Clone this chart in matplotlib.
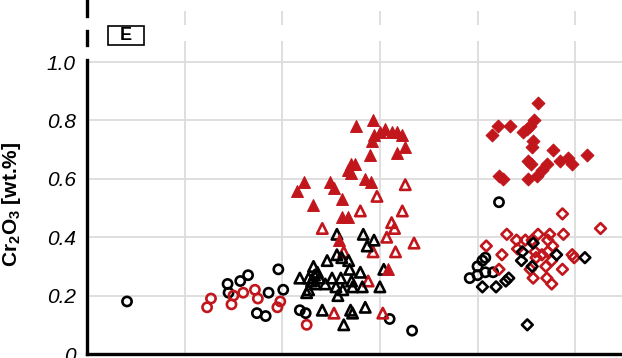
"""Cr2O3 content by sample group, panel E."""
import matplotlib
matplotlib.use('Agg')
import matplotlib.pyplot as plt
from matplotlib.patches import Rectangle
from matplotlib.lines import Line2D
from matplotlib.ticker import FixedLocator, FuncFormatter

RED = '#c2161d'
BLACK = '#000000'
GRID = '#dcdcdc'

# black open circles
circ_blk_x = [0.41, 1.44, 1.45, 1.57, 1.65, 1.74, 1.83, 1.86, 1.96, 2.01, 2.18, 2.24,
              3.10, 3.33, 4.22, 3.92, 4.00, 4.05, 4.08, 4.08, 4.00, 4.16]
circ_blk_y = [0.18, 0.24, 0.21, 0.25, 0.27, 0.14, 0.13, 0.21, 0.29, 0.22, 0.15, 0.14,
              0.12, 0.08, 0.52, 0.26, 0.30, 0.32, 0.33, 0.28, 0.27, 0.28]

# red open circles
circ_red_x = [1.23, 1.27, 1.48, 1.50, 1.60, 1.72, 1.75, 1.95, 1.98, 2.25]
circ_red_y = [0.16, 0.19, 0.17, 0.20, 0.21, 0.22, 0.19, 0.16, 0.18, 0.10]

# black open triangles
tri_blk_x = [2.56, 2.83, 2.94, 2.87, 2.46, 2.56, 2.61, 2.68, 2.69, 2.80, 2.32, 2.18,
             2.27, 2.36, 2.38, 2.51, 2.60, 2.71, 2.72, 2.82, 2.44, 2.34, 2.27, 2.25,
             2.55, 2.62, 2.57, 3.00, 3.04, 2.41, 2.70, 2.72, 2.85, 2.63, 2.30, 2.33]
tri_blk_y = [0.41, 0.41, 0.39, 0.37, 0.32, 0.34, 0.33, 0.32, 0.29, 0.28, 0.30, 0.26,
             0.26, 0.28, 0.26, 0.26, 0.26, 0.25, 0.23, 0.23, 0.24, 0.24, 0.22, 0.21,
             0.23, 0.22, 0.20, 0.23, 0.29, 0.15, 0.15, 0.14, 0.16, 0.10, 0.25, 0.27]

# red open triangles
tri_red_x = [2.97, 3.26, 2.80, 3.23, 2.41, 3.12, 3.15, 3.07, 3.35, 2.63, 2.93, 3.16,
             2.88, 2.53, 3.03]
tri_red_y = [0.54, 0.58, 0.49, 0.49, 0.43, 0.45, 0.43, 0.40, 0.38, 0.35, 0.35, 0.35,
             0.25, 0.14, 0.14]

# red filled triangles
tri_fill_x = [2.76, 2.93, 3.00, 3.05, 3.12, 3.18, 3.23, 2.92, 2.94, 3.26, 3.18, 2.90,
              2.70, 2.75, 2.67, 2.70, 2.22, 2.15, 2.49, 2.53, 2.85, 2.91, 2.32, 2.61,
              2.61, 2.67, 2.58, 3.08]
tri_fill_y = [0.78, 0.80, 0.76, 0.77, 0.76, 0.76, 0.75, 0.73, 0.75, 0.71, 0.69, 0.68,
              0.65, 0.65, 0.63, 0.62, 0.59, 0.56, 0.59, 0.57, 0.60, 0.59, 0.51, 0.53,
              0.47, 0.47, 0.39, 0.29]

# black open diamonds
dia_blk_x = [4.05, 4.19, 4.29, 4.32, 4.45, 4.46, 4.56, 4.81, 5.10, 4.51, 4.57]
dia_blk_y = [0.23, 0.23, 0.25, 0.26, 0.32, 0.35, 0.30, 0.34, 0.33, 0.10, 0.38]

# red open diamonds
dia_red_x = [4.87, 5.26, 4.30, 4.40, 4.09, 4.25, 4.62, 4.74, 4.88, 4.72, 4.49, 4.56,
             4.41, 4.59, 4.66, 4.72, 4.77, 4.97, 4.99, 4.76, 4.87, 4.70, 4.60, 4.22,
             4.54, 4.57, 4.71, 4.76]
dia_red_y = [0.48, 0.43, 0.41, 0.39, 0.37, 0.34, 0.41, 0.41, 0.41, 0.39, 0.39, 0.39,
             0.36, 0.35, 0.34, 0.35, 0.37, 0.34, 0.33, 0.32, 0.29, 0.30, 0.33, 0.29,
             0.29, 0.26, 0.26, 0.24]

# red filled diamonds
dia_fill_x = [4.62, 4.21, 4.33, 4.15, 4.47, 4.54, 4.58, 4.51, 4.57, 4.56, 4.77, 5.12,
              4.93, 4.97, 4.84, 4.52, 4.55, 4.71, 4.66, 4.61, 4.52, 4.22, 4.26]
dia_fill_y = [0.86, 0.78, 0.78, 0.75, 0.76, 0.78, 0.80, 0.77, 0.73, 0.71, 0.70, 0.68,
              0.67, 0.65, 0.66, 0.66, 0.65, 0.65, 0.63, 0.61, 0.60, 0.61, 0.60]

y_ticks = [0.0, 0.2, 0.4, 0.6, 0.8, 1.0]
x_grid = [1, 2, 3, 4, 5]
panel_label = 'E'

plt.rcParams['font.family'] = ['Liberation Sans', 'DejaVu Sans']
plt.rcParams['mathtext.fontset'] = 'custom'
plt.rcParams['mathtext.rm'] = 'Liberation Sans:bold'
plt.rcParams['mathtext.default'] = 'rm'

fig = plt.figure(figsize=(6.22, 3.58), dpi=100)
ax = fig.add_axes([87 / 622, 4 / 358, 535 / 622, 343 / 358])
ax.set_xlim(0, 5.48)
ax.set_ylim(0, 1.175)

# grid: horizontal only up to 1.0, vertical over full height
for yv in y_ticks[1:]:
    ax.axhline(yv, color=GRID, lw=1.3, zorder=0)
for xv in x_grid:
    ax.axvline(xv, color=GRID, lw=1.3, zorder=0)
ax.axhspan(1.072, 1.127, color='white', lw=0, zorder=0.5)

open_kw = dict(facecolors='none', clip_on=False, zorder=3)
ax.scatter(circ_blk_x, circ_blk_y, s=44, marker='o', edgecolors=BLACK, linewidths=1.9, **open_kw)
ax.scatter(circ_red_x, circ_red_y, s=44, marker='o', edgecolors=RED, linewidths=1.9, **open_kw)
ax.scatter(tri_red_x, tri_red_y, s=56, marker='^', edgecolors=RED, linewidths=1.9, **open_kw)
ax.scatter(tri_blk_x, tri_blk_y, s=56, marker='^', edgecolors=BLACK, linewidths=1.9, **open_kw)
ax.scatter(tri_fill_x, tri_fill_y, s=72, marker='^', c=RED, edgecolors=RED, linewidths=0.8, zorder=4)
ax.scatter(dia_red_x, dia_red_y, s=30, marker='D', edgecolors=RED, linewidths=1.9, **open_kw)
ax.scatter(dia_blk_x, dia_blk_y, s=30, marker='D', edgecolors=BLACK, linewidths=1.9, **open_kw)
ax.scatter(dia_fill_x, dia_fill_y, s=42, marker='D', c=RED, edgecolors=RED, linewidths=0.8, zorder=4)

for side in ['top', 'right', 'left']:
    ax.spines[side].set_visible(False)
ax.spines['bottom'].set_linewidth(2.4)
ax.spines['bottom'].set_color(BLACK)

# left axis line: solid up to 1.0, broken above it
ax.add_line(Line2D([0, 0], [0, 1.007], color=BLACK, lw=2.4, clip_on=False, zorder=5))
ax.add_line(Line2D([0, 0], [1.058, 1.106], color=BLACK, lw=2.4, clip_on=False, zorder=5))
ax.add_line(Line2D([0, 0], [1.158, 1.22], color=BLACK, lw=2.4, clip_on=False, zorder=5))

ax.yaxis.set_major_locator(FixedLocator(y_ticks))
ax.yaxis.set_major_formatter(FuncFormatter(lambda v, _: '0' if v == 0 else f'{v:.1f}'))
ax.tick_params(axis='y', length=0, pad=8, labelsize=15)
for lab in ax.get_yticklabels():
    lab.set_fontstyle('italic')
ax.set_xticks([])

ax.set_ylabel(r'Cr$_2$O$_3$ [wt.%]', fontsize=15, fontweight='bold')
ax.yaxis.set_label_coords(-0.12, 0.435)

ax.add_patch(Rectangle((0.215, 1.058), 0.369, 0.065, facecolor='white', edgecolor=BLACK,
                       lw=1.2, zorder=6))
ax.text(0.40, 1.0905, panel_label, ha='center', va='center', fontsize=13,
        fontweight='bold', zorder=7)

fig.savefig('out.png', dpi=100)
